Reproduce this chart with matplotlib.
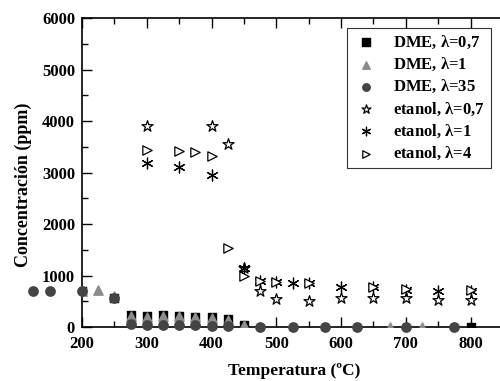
import matplotlib
matplotlib.use("Agg")
import matplotlib.pyplot as plt
from matplotlib.ticker import MultipleLocator

plt.rcParams['font.family'] = ['Liberation Serif', 'DejaVu Serif']
plt.rcParams['font.weight'] = 'bold'
plt.rcParams['mathtext.fontset'] = 'custom'
plt.rcParams['mathtext.bf'] = 'Liberation Serif:bold'

# DME series
dme07_t = [200, 250, 275, 300, 325, 350, 375, 400, 425, 450, 800]
dme07_c = [700, 560, 240, 210, 230, 210, 200, 190, 160, 40, 0]

dme1_t = [200, 225, 250, 275, 300, 325, 350, 375, 400, 425, 450, 675, 725]
dme1_c = [700, 710, 600, 220, 200, 220, 210, 200, 180, 140, 40, 0, 0]

dme35_t = [125, 150, 200, 250, 275, 300, 325, 350, 375, 400, 425, 475, 525, 575, 625, 700, 775]
dme35_c = [700, 700, 700, 560, 60, 30, 30, 30, 30, 20, 10, 0, 0, 0, 0, 0, 0]

# etanol series
et07_t = [300, 400, 425, 450, 475, 500, 550, 600, 650, 700, 750, 800]
et07_c = [3910, 3910, 3550, 1150, 700, 540, 505, 570, 570, 570, 525, 525]

et1_t = [300, 350, 400, 450, 475, 500, 525, 550, 600, 650, 700, 750, 800]
et1_c = [3190, 3110, 2950, 1150, 900, 880, 850, 860, 770, 770, 720, 700, 700]

et4_t = [300, 350, 375, 400, 425, 450, 475, 500, 550, 650, 700, 800]
et4_c = [3440, 3420, 3390, 3330, 1530, 1000, 900, 880, 850, 770, 740, 720]

fig = plt.figure(figsize=(5.0, 3.81), dpi=100)
ax = fig.add_axes([0.164, 0.1417, 0.842, 0.811])

ax.scatter(dme07_t, dme07_c, marker='s', s=40, color='black', label=r'DME, $\mathbf{\lambda}$=0,7', zorder=3)
ax.scatter(dme1_t, dme1_c, marker='^', s=45, color='#8c8c8c', label=r'DME, $\mathbf{\lambda}$=1', zorder=4)
ax.scatter(dme35_t, dme35_c, marker='o', s=45, color='#444444', label=r'DME, $\mathbf{\lambda}$=35',
           zorder=5, clip_on=False)
ax.scatter(et07_t, et07_c, marker='*', s=70, facecolor='white', edgecolor='black', linewidth=0.9,
           label=r'etanol, $\mathbf{\lambda}$=0,7', zorder=3)
ax.scatter(et1_t, et1_c, marker=(6, 2, 0), s=60, color='black', linewidth=0.9,
           label=r'etanol, $\mathbf{\lambda}$=1', zorder=3)
ax.scatter(et4_t, et4_c, marker='>', s=45, facecolor='white', edgecolor='black', linewidth=0.9,
           label=r'etanol, $\mathbf{\lambda}$=4', zorder=3)

ax.set_xlim(200, 850)
ax.set_ylim(0, 6000)
ax.xaxis.set_major_locator(MultipleLocator(100))
ax.xaxis.set_minor_locator(MultipleLocator(50))
ax.yaxis.set_major_locator(MultipleLocator(1000))
ax.yaxis.set_minor_locator(MultipleLocator(500))
ax.tick_params(which='both', direction='in', top=True, right=False, labelsize=12, pad=5)
ax.tick_params(axis='x', which='major', pad=6.5)
ax.tick_params(which='major', length=7, width=1)
ax.tick_params(which='minor', length=4, width=1)
ax.set_xticks([200, 300, 400, 500, 600, 700, 800])
for sp in ax.spines.values():
    sp.set_linewidth(1.2)
ax.spines['right'].set_visible(False)

ax.set_xlabel('Temperatura (ºC)', fontsize=12.5, fontweight='bold')
ax.set_ylabel('Concentración (ppm)', fontsize=13, fontweight='bold')
ax.xaxis.set_label_coords(0.504, -0.117)
ax.yaxis.set_label_coords(-0.119, 0.46)

leg = ax.legend(loc='upper right', bbox_to_anchor=(0.971, 0.968), fontsize=12, frameon=True,
                fancybox=False, edgecolor='black', handlelength=1.6, handletextpad=0.8,
                borderpad=0.35, borderaxespad=0, labelspacing=0.3, scatterpoints=1, markerscale=0.8)
leg.get_frame().set_linewidth(0.8)

fig.savefig('out.png', dpi=100)
